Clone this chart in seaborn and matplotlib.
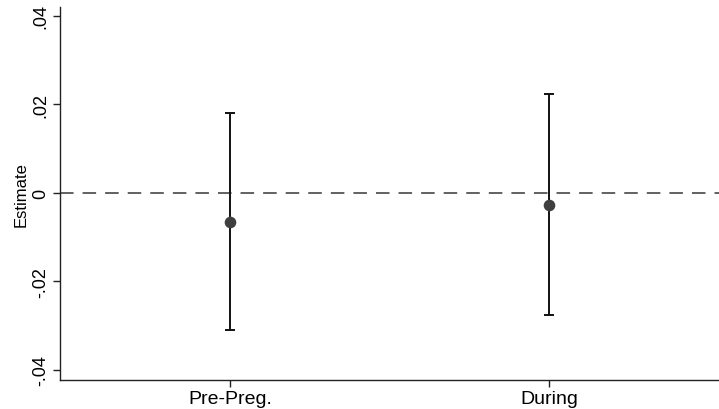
import matplotlib
matplotlib.use("Agg")
import matplotlib.pyplot as plt
import seaborn as sns
import pandas as pd
import numpy as np

categories = ["Pre-Preg.", "During"]
estimates = [-0.0065, -0.0027]
lower = [-0.031, -0.0277]
upper = [0.018, 0.0224]
yticks = [-0.04, -0.02, 0.0, 0.02, 0.04]
yticklabels = ["-.04", "-.02", "0", ".02", ".04"]

sns.set_theme(style="white")
plt.rcParams["font.family"] = ["Liberation Sans", "DejaVu Sans"]

df = pd.DataFrame({"period": categories, "estimate": estimates,
                   "lower": lower, "upper": upper})

fig = plt.figure(figsize=(7.19, 4.10), dpi=100)
ax = fig.add_axes([60 / 719, 1 - 381 / 410, 1 - 60 / 719, (381 - 8) / 410])

ax.axhline(0, color="#555555", lw=1.3, ls=(0, (7.5, 5)), zorder=1)

xpos = np.arange(len(df))
est = df["estimate"].to_numpy()
ax.errorbar(xpos, est,
            yerr=[est - df["lower"].to_numpy(), df["upper"].to_numpy() - est],
            fmt="none", ecolor="#111111", elinewidth=1.4, capsize=3.4,
            capthick=1.4, zorder=2)
sns.scatterplot(data=df, x="period", y="estimate", ax=ax, s=70,
                color="#3f3f3f", edgecolor="#3f3f3f", linewidth=0, zorder=3)

ax.set_xlim(-0.533, 1.533)
ax.set_ylim(-0.0423, 0.0420)
ax.set_yticks(yticks)
ax.set_yticklabels(yticklabels, rotation=90, va="center", fontsize=13)
ax.set_xticks(xpos)
ax.set_xticklabels(categories, fontsize=14)
ax.set_xlabel("")
ax.set_ylabel("Estimate", fontsize=12, labelpad=3, color="black")

for s in ["top", "right"]:
    ax.spines[s].set_visible(False)
for s in ["left", "bottom"]:
    ax.spines[s].set_color("#222222")
    ax.spines[s].set_linewidth(1.0)
ax.tick_params(axis="both", which="both", direction="out", length=5,
               width=1.0, color="#222222", labelcolor="black", pad=2.5,
               left=True, bottom=True)

fig.savefig("out.png", dpi=100)
